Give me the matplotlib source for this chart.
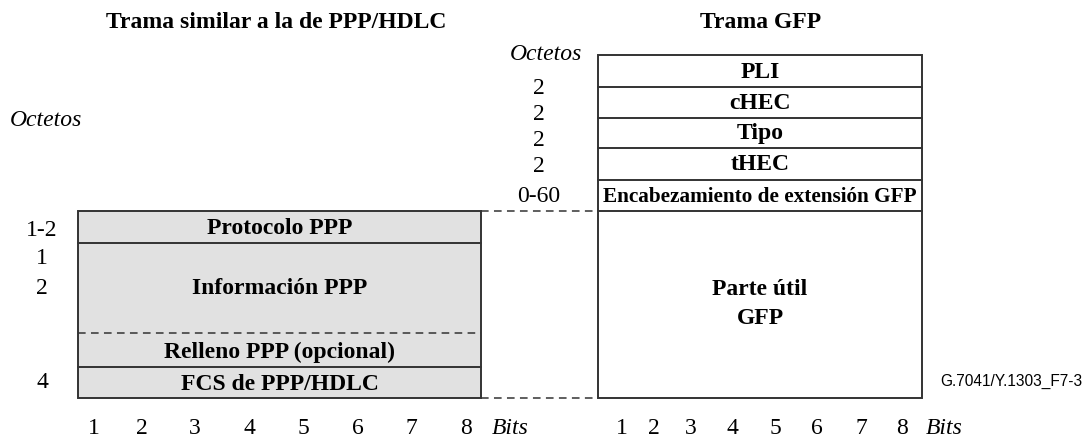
import matplotlib.pyplot as plt
from matplotlib.patches import Rectangle

plt.rcParams['font.family'] = ['Liberation Serif', 'DejaVu Serif']

# datos del diagrama
titulo_izq = 'Trama similar a la de PPP/HDLC'
titulo_der = 'Trama GFP'

campos_gfp = ['PLI', 'cHEC', 'Tipo', 'tHEC', 'Encabezamiento de extensión GFP']
octetos_gfp = ['2', '2', '2', '2', '0-60']
carga_gfp = 'Parte útil\nGFP'

campos_ppp = ['Protocolo PPP', 'Información PPP', 'Relleno PPP (opcional)', 'FCS de PPP/HDLC']
octetos_ppp = ['1-2', '1', '2', '4']
bits = ['1', '2', '3', '4', '5', '6', '7', '8']
ref = 'G.7041/Y.1303_F7-3'

fig = plt.figure(figsize=(10.87, 4.37), dpi=100)
ax = fig.add_axes([0, 0, 1, 1])
ax.set_xlim(0, 1087)
ax.set_ylim(437, 0)
ax.axis('off')

borde = '#333333'
lw = 1.4
fs = 17
negrita = dict(fontsize=fs, fontweight='bold', ha='center', va='center')
normal = dict(fontsize=fs, ha='center', va='center')
cursiva = dict(fontsize=fs, style='italic', va='center')

# titulos
ax.text(276, 22, titulo_izq, **negrita)
ax.text(761, 22, titulo_der, **negrita)

# trama GFP
x0, x1 = 598, 922
lineas_gfp = [55, 87, 118, 148, 180, 211]
y_oct_gfp = [89, 115, 140, 167, 197]
ax.text(546, 54, 'Octetos', ha='center', **cursiva)
for i, campo in enumerate(campos_gfp):
    ya, yb = lineas_gfp[i], lineas_gfp[i + 1]
    tam = 15.3 if i == len(campos_gfp) - 1 else fs
    ax.text((x0 + x1) / 2, (ya + yb) / 2 + 1, campo, fontsize=tam, fontweight='bold',
            ha='center', va='center')
    ax.text(539, y_oct_gfp[i], octetos_gfp[i], **normal)
    ax.plot([x0, x1], [yb, yb], color=borde, lw=lw)
ax.add_patch(Rectangle((x0, 55), x1 - x0, 398 - 55, fill=False, edgecolor=borde, lw=lw))
ax.text((x0 + x1) / 2, 304, carga_gfp, linespacing=1.45, **negrita)

# trama PPP
p0, p1 = 78, 481
ax.add_patch(Rectangle((p0, 211), p1 - p0, 398 - 211, facecolor='#e1e1e1',
                       edgecolor=borde, lw=lw))
ax.plot([p0, p1], [243, 243], color=borde, lw=lw)
ax.plot([p0, p1], [333, 333], color=borde, lw=1.1, ls=(0, (5, 3.5)))
ax.plot([p0, p1], [367, 367], color=borde, lw=lw)
y_campos_ppp = [228, 289, 352, 384]
for campo, y in zip(campos_ppp, y_campos_ppp):
    ax.text((p0 + p1) / 2, y, campo, **negrita)
ax.text(46, 121, 'Octetos', ha='center', **cursiva)
for lab, y in zip(octetos_ppp, [230, 258, 289, 383]):
    ax.text(42, y, lab, **normal)

# lineas discontinuas de union
for y in [211, 398]:
    ax.plot([p1, x0], [y, y], color=borde, lw=1.1, ls=(0, (5, 3.5)))

# bits
x_bits_izq = [94, 142, 195, 249, 303, 358, 411, 466]
x_bits_der = [622, 654, 691, 732, 775, 817, 861, 902]
for b, xa, xb in zip(bits, x_bits_izq, x_bits_der):
    ax.text(xa, 428, b, **normal)
    ax.text(xb, 428, b, **normal)
ax.text(492, 428, 'Bits', ha='left', **cursiva)
ax.text(926, 428, 'Bits', ha='left', **cursiva)

ax.text(1082, 381, ref, fontsize=11.2, family='Liberation Sans', ha='right', va='center')

fig.savefig('out.png', dpi=100)
